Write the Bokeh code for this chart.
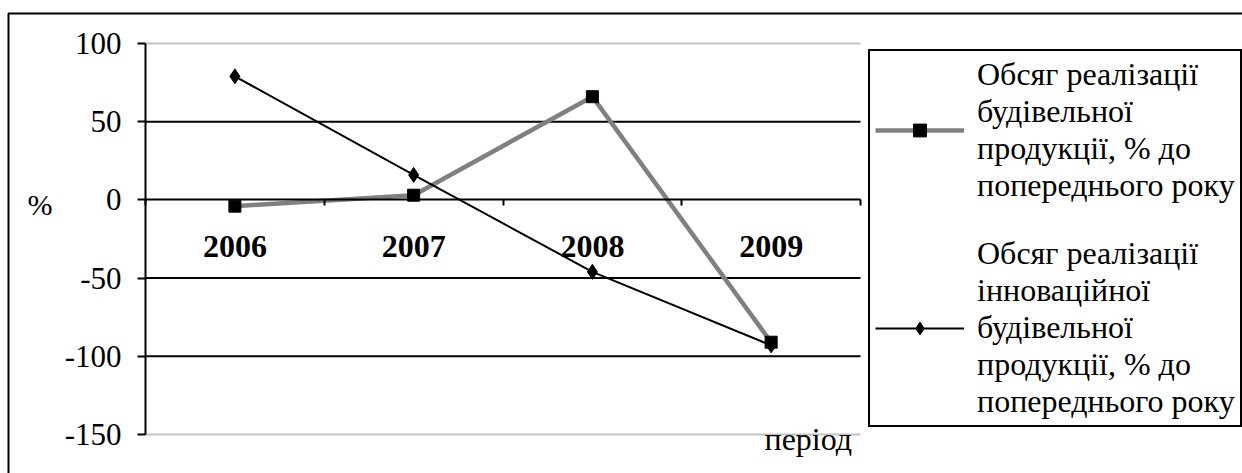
from bokeh.plotting import figure
from bokeh.models import (Range1d, FixedTicker, LinearAxis, Legend, LegendItem, Label,
                          BoxAnnotation, ColumnDataSource)
from bokeh.embed import file_html
from bokeh.resources import INLINE

years = ["2006", "2007", "2008", "2009"]
construction = [-4, 3, 66, -91]      # Обсяг реалізації будівельної продукції
innovation = [79, 16, -46, -93]      # Обсяг реалізації інноваційної будівельної продукції
y_ticks = [-150, -100, -50, 0, 50, 100]
grid_dark = [50, -50, -100]
grid_light = [100, -150]
label1 = "Обсяг реалізації\nбудівельної\nпродукції, % до\nпопереднього року"
label2 = "Обсяг реалізації\nінноваційної\nбудівельної\nпродукції, % до\nпопереднього року"
y_title = "%"
x_title = "період"

FONT = "Liberation Serif"
W, H = 1242, 473
FL, FR, FT, FB = 145, 860, 43, 434          # plot area in pixels
YMIN, YMAX = -150, 100
n = len(years)
xpx = (FR - FL) / n
ypx = (FB - FT) / (YMAX - YMIN)

xpos = [i + 0.5 for i in range(n)]
src = ColumnDataSource(dict(x=xpos, year=years, c=construction, i=innovation))

p = figure(width=W, height=H,
           min_border_left=0, min_border_right=0, min_border_top=0, min_border_bottom=0,
           x_range=Range1d(-FL / xpx, n + (W - FR) / xpx),
           y_range=Range1d(YMIN - (H - FB) / ypx, YMAX + FT / ypx),
           x_axis_location=None, y_axis_location=None,
           output_backend="svg", toolbar_location=None)
p.outline_line_color = None
p.grid.visible = False
p.background_fill_color = "white"
p.border_fill_color = "white"

# horizontal grid lines within the plot area
p.segment(x0=[0] * len(grid_dark), x1=[n] * len(grid_dark), y0=grid_dark, y1=grid_dark,
          line_color="black", line_width=2)
p.segment(x0=[0] * len(grid_light), x1=[n] * len(grid_light), y0=grid_light, y1=grid_light,
          line_color="#c4c4c4", line_width=2)

# y axis
ya = LinearAxis(ticker=FixedTicker(ticks=y_ticks), fixed_location=0, bounds=(YMIN, YMAX))
ya.major_label_overrides = {t: str(t) for t in y_ticks}
ya.axis_line_width = 2
ya.axis_line_color = "black"
ya.major_tick_out = 8
ya.major_tick_in = 0
ya.major_tick_line_width = 2
ya.minor_tick_out = 0
ya.major_label_text_font = FONT
ya.major_label_text_font_size = "31px"
ya.major_label_text_color = "black"
ya.major_label_standoff = 16
p.add_layout(ya, "left")

# x axis at y = 0
xa = LinearAxis(ticker=FixedTicker(ticks=xpos, minor_ticks=list(range(n + 1))),
                fixed_location=0, bounds=(0, n))
xa.major_label_overrides = {xv: yr for xv, yr in zip(xpos, years)}
xa.axis_line_width = 2
xa.axis_line_color = "black"
xa.major_tick_out = 0
xa.major_tick_in = 0
xa.minor_tick_out = 6
xa.minor_tick_in = 0
xa.minor_tick_line_width = 2
xa.minor_tick_line_color = "black"
xa.major_label_text_font = FONT
xa.major_label_text_font_style = "bold"
xa.major_label_text_font_size = "32px"
xa.major_label_text_color = "black"
xa.major_label_standoff = 30
p.add_layout(xa, "below")

# series
r1l = p.line("x", "c", source=src, line_color="#808080", line_width=4.5)
r1s = p.scatter("x", "c", source=src, marker="square", size=12,
                fill_color="black", line_color="black")
r2l = p.line("x", "i", source=src, line_color="black", line_width=2)
r2s = p.scatter("x", "i", source=src, marker="diamond", size=15,
                fill_color="black", line_color="black")

legend = Legend(items=[LegendItem(label=label1, renderers=[r1l, r1s]),
                       LegendItem(label=label2, renderers=[r2l, r2s])],
                location=(868, H - 427))
legend.border_line_color = "black"
legend.border_line_width = 2
legend.border_line_alpha = 1
legend.background_fill_color = "white"
legend.background_fill_alpha = 1
legend.label_text_font = FONT
legend.label_text_font_size = "32px"
legend.label_text_line_height = 1.41
legend.label_text_color = "black"
legend.glyph_width = 89
legend.glyph_height = 32
legend.label_standoff = 13
legend.padding = 5
legend.spacing = 31
legend.margin = 0
p.add_layout(legend)

p.add_layout(Label(x=27, y=H - 204, x_units="screen", y_units="screen", text=y_title,
                   text_font=FONT, text_font_size="30px", text_baseline="middle",
                   text_color="black"))
p.add_layout(Label(x=764, y=H - 438, x_units="screen", y_units="screen", text=x_title,
                   text_font=FONT, text_font_size="32px", text_baseline="middle",
                   text_color="black"))

# outer chart border
p.add_layout(BoxAnnotation(left=8, right=W + 20, top=H - 13, bottom=-20,
                           left_units="screen", right_units="screen",
                           top_units="screen", bottom_units="screen",
                           fill_alpha=0, line_color="black", line_alpha=1, line_width=2,
                           level="overlay"))

open("out.html", "w").write(file_html(p, INLINE))
